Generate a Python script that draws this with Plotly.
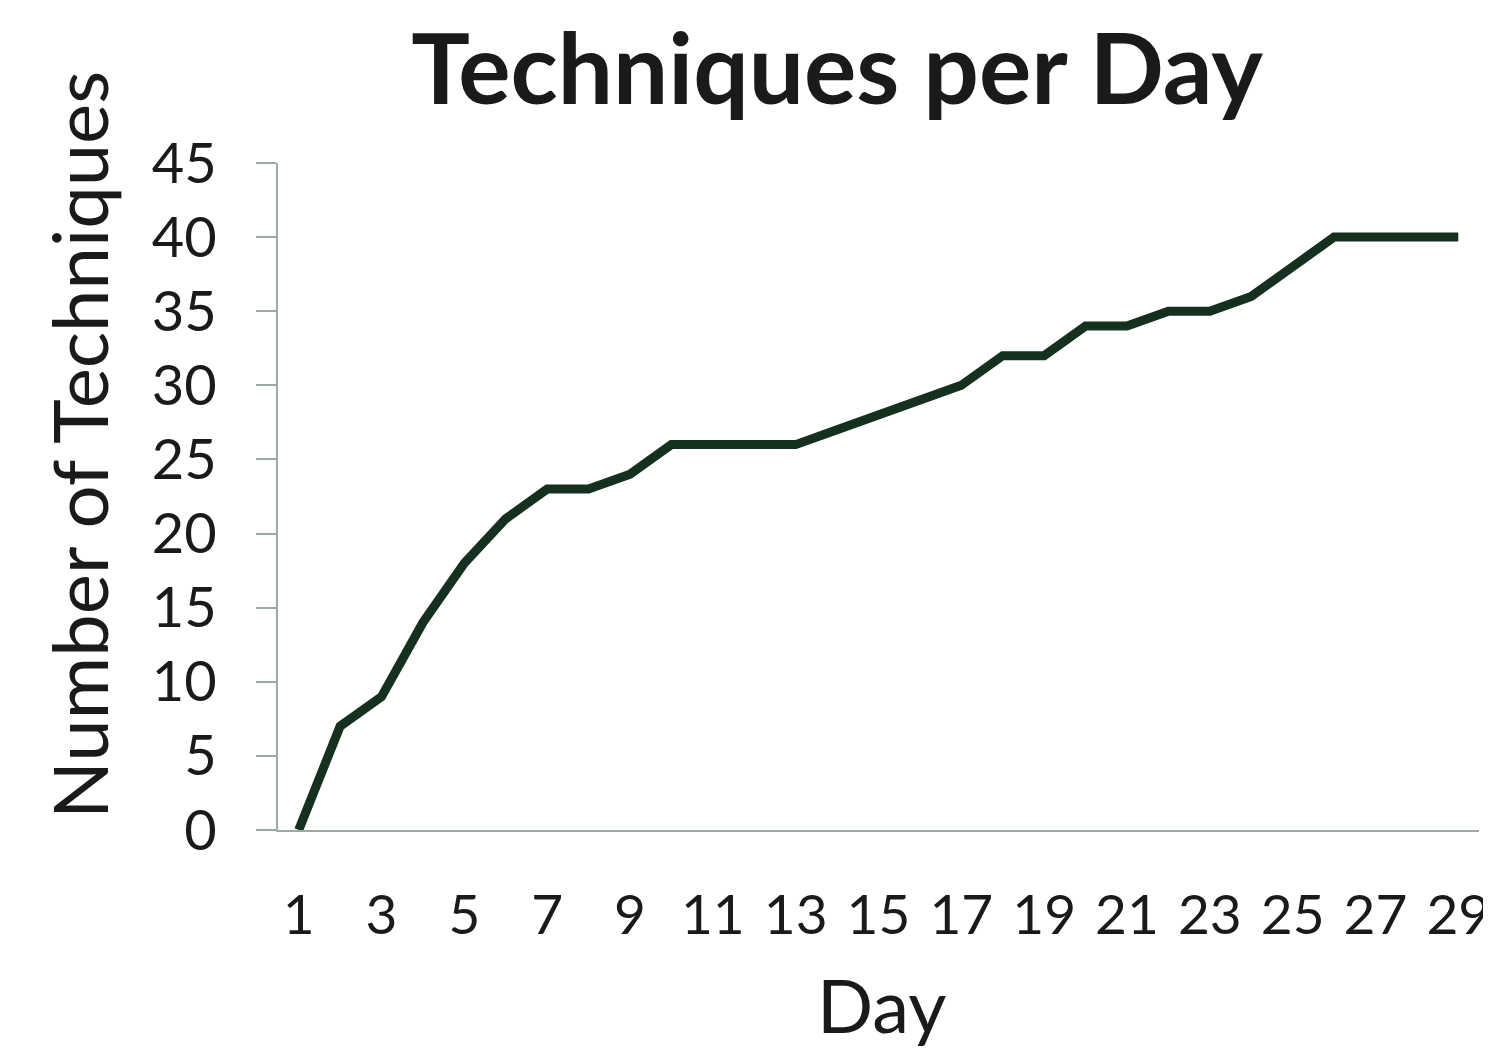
import plotly.graph_objects as go

days = list(range(1, 30))
techniques = [0, 7, 9, 14, 18, 21, 23, 23, 24, 26, 26, 26, 26, 27, 28, 29, 30,
              32, 32, 34, 34, 35, 35, 36, 38, 40, 40, 40, 40]
x_ticks = list(range(1, 30, 2))
y_ticks = list(range(0, 46, 5))

FONT = "Lato"
TXT = "#1a1a1a"
AX = "#9aaba1"

# page body has an 8px margin; work in screen coords minus that offset
OFF = 8
W, H = 1491 - OFF, 1052 - OFF
L, R, T, B = 278 - OFF, 12, 163 - OFF, 222
PW, PH = W - L - R, H - T - B


def px_x(sx):
    return (sx - OFF - L) / PW


def px_y(sy):
    return (H - B - (sy - OFF)) / PH


fig = go.Figure(go.Scatter(x=days, y=techniques, mode="lines",
                           line=dict(color="#15301f", width=9),
                           hoverinfo="skip"))

fig.update_layout(
    width=W, height=H,
    paper_bgcolor="white", plot_bgcolor="white",
    margin=dict(l=L, r=R, t=T, b=B, autoexpand=False),
    showlegend=False,
    font=dict(family=FONT, color=TXT),
    title=dict(text="<b>Techniques per Day</b>", x=(837 - OFF) / W,
               xanchor="center", y=1 - (70 - OFF) / H, yanchor="middle",
               font=dict(family=FONT, size=98, color=TXT)),
    xaxis=dict(range=[0.5, 29.5], tickmode="array", tickvals=x_ticks,
               ticktext=[str(v) for v in x_ticks], showgrid=False,
               zeroline=False, showline=True, linecolor=AX, linewidth=2,
               ticks="", ticklabelstandoff=36, automargin=False,
               ticklabeloverflow="allow",
               tickfont=dict(family=FONT, size=55, color=TXT)),
    yaxis=dict(range=[0, 45], tickmode="array", tickvals=y_ticks,
               showgrid=False, zeroline=False, showline=True, linecolor=AX,
               linewidth=2, ticks="outside", ticklen=20, tickcolor=AX,
               tickwidth=2, ticklabelstandoff=28, automargin=False,
               ticklabeloverflow="allow",
               tickfont=dict(family=FONT, size=56, color=TXT)),
    annotations=[
        dict(text="Number of Techniques", textangle=-90, xref="paper",
             yref="paper", x=px_x(79), y=px_y(445),
             xanchor="center", yanchor="middle", showarrow=False,
             font=dict(family=FONT, size=76, color=TXT)),
        dict(text="Day", xref="paper", yref="paper",
             x=px_x(881), y=px_y(1004),
             xanchor="center", yanchor="middle", showarrow=False,
             font=dict(family=FONT, size=74, color=TXT)),
    ],
)

fig.write_html("out.html")
